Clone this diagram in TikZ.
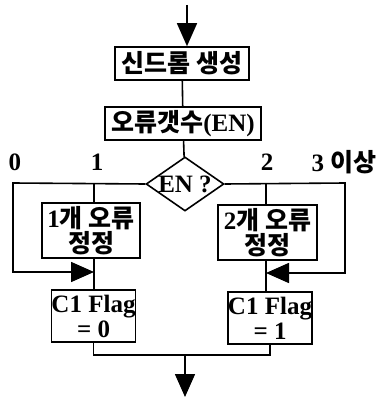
\documentclass[tikz,border=0pt]{standalone}
\usepackage{fontspec}
\setmainfont{Liberation Serif}
\newfontfamily\kr{Noto Sans CJK KR}
\usetikzlibrary{arrows.meta,shapes.geometric}

\begin{document}
\begin{tikzpicture}[x=1pt,y=-1pt,line width=1.6pt,
        txt/.style={font=\fontsize{25}{25}\selectfont\bfseries},
        box/.style={txt,draw,rectangle,inner sep=0pt,align=center},
        arr/.style={-{Triangle[length=23pt,width=20pt]}}]
        \useasboundingbox (0,0) rectangle (382,398);
        % boxes
        \node[box,minimum width=134pt,minimum height=33pt] (syn) at (182,63.5) {{\kr 신드롬 생성}};
        \node[box,minimum width=156pt,minimum height=33pt] (cnt) at (183,123.5) {{\kr 오류갯수}(EN)};
        \node[txt,draw,diamond,inner sep=0pt,aspect=1.44,minimum width=75pt,minimum height=52pt] (dia) at (185,184) {EN ?};
        \node[box,minimum width=98pt,minimum height=55pt] (fix1) at (91,230.5) {1{\kr 개 오류}\\{\kr 정정}};
        \node[box,minimum width=99pt,minimum height=55pt] (fix2) at (267.5,232.5) {2{\kr 개 오류}\\{\kr 정정}};
        \node[box,minimum width=83pt,minimum height=52pt] (flag0) at (93.5,316) {C1 Flag\\= 0};
        \node[box,minimum width=84pt,minimum height=52pt] (flag1) at (270,318) {C1 Flag\\= 1};
        % branch labels
        \node[txt] (n0) at (15,162) {0};
        \node[txt] (n1) at (97,162) {1};
        \node[txt] (n2) at (267,162) {2};
        \node[txt] (n3) at (344,162) {3 {\kr 이상}};
        % points
        \coordinate (start) at (187,5);
        \coordinate (l0) at (13,183);
        \coordinate (l1) at (94,183);
        \coordinate (r2) at (266,183);
        \coordinate (r3) at (345,183);
        \coordinate (j0) at (94,272);
        \coordinate (j1) at (266,273);
        \coordinate (m) at (185,355);
        \coordinate (end) at (185,397);
        % connectors
        \draw[arr] (start) -- (start |- syn.north);
        \draw (syn) -- (cnt);
        \draw (cnt) -- (dia);
        \draw[arr] (dia.west) -- (l0) |- (j0);
        \draw[arr] (dia.east) -- (r3) |- (j1);
        \draw (l1) -- (l1 |- fix1.north);
        \draw (fix1.south -| l1) -- (l1 |- flag0.north);
        \draw (r2) -- (r2 |- fix2.north);
        \draw (fix2.south -| r2) -- (r2 |- flag1.north);
        \draw (flag0.south) |- (m) -| (flag1.south);
        \draw[arr] (m) -- (end);
    \end{tikzpicture}
\end{document}
